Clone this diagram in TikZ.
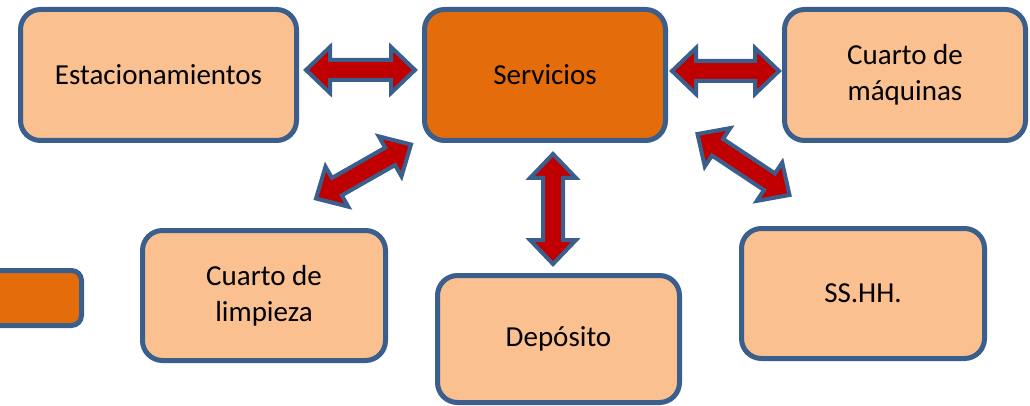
\documentclass[tikz,border=0pt]{standalone}
\usepackage{fontspec}
\setmainfont{Carlito}
\usetikzlibrary{calc}
\definecolor{boxfill}{HTML}{FAC090}
\definecolor{darkfill}{HTML}{E46C0A}
\definecolor{edge}{HTML}{3A5F8D}
\definecolor{arrred}{HTML}{C00000}
\newcommand{\dblarr}[2]{%
  \draw[arrshape] (#1) -- ($(#1)!24pt!(#2)!23pt!90:(#2)$) -- ($(#1)!24pt!(#2)!10pt!90:(#2)$)
   -- ($(#2)!24pt!(#1)!10pt!-90:(#1)$) -- ($(#2)!24pt!(#1)!23pt!-90:(#1)$) -- (#2)
   -- ($(#2)!24pt!(#1)!23pt!90:(#1)$) -- ($(#2)!24pt!(#1)!10pt!90:(#1)$)
   -- ($(#1)!24pt!(#2)!10pt!-90:(#2)$) -- ($(#1)!24pt!(#2)!23pt!-90:(#2)$) -- cycle;}
\tikzset{
  box/.style={draw=edge, line width=5pt, fill=boxfill, rounded corners=20pt,
    align=center, inner sep=0pt, font=\fontsize{29}{36}\selectfont, text=black},
  arrshape/.style={draw=edge, line width=4pt, fill=arrred, line join=miter}
}
\begin{document}
\begin{tikzpicture}[x=1pt,y=-1pt]
\useasboundingbox (0,0) rectangle (1030,406);
\clip (0,0) rectangle (1030,406);
\node[box, minimum width=276pt, minimum height=131pt] (est) at (158.5,75) {Estacionamientos};
\node[box, fill=darkfill, minimum width=241pt, minimum height=131pt] (serv) at (545,75) {Servicios};
\node[box, minimum width=241pt, minimum height=131pt] (maq) at (905,75) {Cuarto de\\máquinas};
\node[box, minimum width=243pt, minimum height=130pt] (limp) at (264,295.5) {Cuarto de\\limpieza};
\node[box, minimum width=242pt, minimum height=127pt] (dep) at (558.5,339) {Depósito};
\node[box, minimum width=243pt, minimum height=130pt] (ss) at (863,293.5) {SS.HH.};
\node[box, fill=darkfill, rounded corners=10pt, minimum width=250pt, minimum height=55pt] (leg) at (-43.5,298) {};
\coordinate (a1s) at (306,70);   \coordinate (a1e) at (415,70);
\coordinate (a2s) at (672,71);   \coordinate (a2e) at (779,71);
\coordinate (a3s) at (553,154);  \coordinate (a3e) at (553,264);
\coordinate (a4s) at (316,198.5);\coordinate (a4e) at (411,144.5);
\coordinate (a5s) at (697.5,134);\coordinate (a5e) at (789.5,195);
\dblarr{a1s}{a1e}
\dblarr{a2s}{a2e}
\dblarr{a3s}{a3e}
\dblarr{a4s}{a4e}
\dblarr{a5s}{a5e}
\end{tikzpicture}
\end{document}
